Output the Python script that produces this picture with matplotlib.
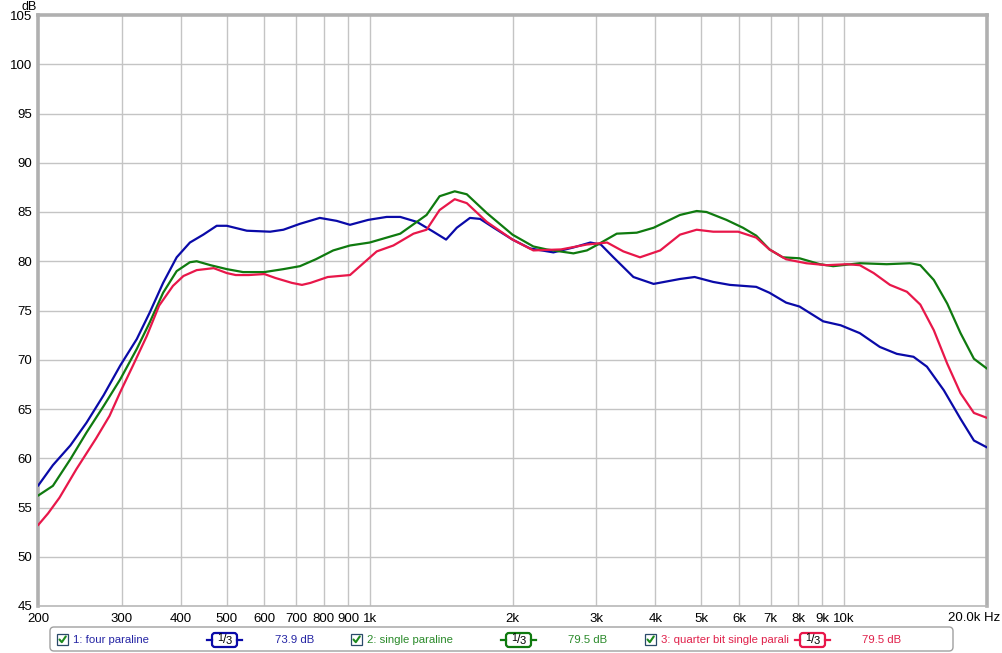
import numpy as np
import matplotlib
matplotlib.use("Agg")
import matplotlib.pyplot as plt
from matplotlib.patches import FancyBboxPatch, Rectangle

plt.rcParams['font.family'] = ['Liberation Sans', 'DejaVu Sans']

# ---------------- data ----------------
blue_f = [200, 215, 234, 253, 275, 298, 323, 344, 367, 392, 418, 446, 476, 500, 551, 617, 658, 713, 785, 852, 909,
          993, 1086, 1160, 1257, 1362, 1449, 1526, 1627, 1709, 1826, 2000, 2178, 2439, 2688, 2918, 3070, 3264, 3596,
          3966, 4508, 4840, 5297, 5744, 6526, 6960, 7545, 8054, 9034, 9832, 10790, 11890, 12910, 14000, 14940,
          16220, 17590, 18770, 20000]
blue_db = [57.2, 59.3, 61.3, 63.6, 66.4, 69.4, 72.1, 74.8, 77.8, 80.4, 81.9, 82.7, 83.6, 83.6, 83.1, 83.0, 83.2, 83.8,
           84.4, 84.1, 83.7, 84.2, 84.5, 84.5, 84.0, 83.0, 82.2, 83.4, 84.4, 84.3, 83.4, 82.2, 81.3, 80.9, 81.4, 81.9,
           81.7, 80.4, 78.4, 77.7, 78.2, 78.4, 77.9, 77.6, 77.4, 76.8, 75.8, 75.4, 73.9, 73.5, 72.7, 71.3, 70.6, 70.3,
           69.3, 66.9, 64.0, 61.8, 61.1]

green_f = [200, 215, 234, 253, 275, 298, 323, 344, 367, 392, 418, 432, 462, 500, 541, 600, 658, 713, 770, 838, 909,
           1000, 1160, 1318, 1404, 1511, 1602, 1765, 2000, 2213, 2361, 2688, 2870, 3000, 3317, 3655, 3966, 4508, 4888,
           5128, 5647, 6120, 6526, 6960, 7423, 8054, 8890, 9480, 10790, 12290, 13780, 14470, 15450, 16490, 17590,
           18770, 20000]
green_db = [56.2, 57.2, 59.9, 62.6, 65.3, 68.0, 71.1, 73.8, 76.8, 79.0, 79.9, 80.0, 79.6, 79.2, 78.9, 78.9, 79.2, 79.5,
            80.2, 81.1, 81.6, 81.9, 82.8, 84.7, 86.6, 87.1, 86.8, 84.9, 82.7, 81.5, 81.2, 80.8, 81.1, 81.6, 82.8, 82.9,
            83.4, 84.7, 85.1, 85.0, 84.2, 83.4, 82.6, 81.2, 80.4, 80.3, 79.7, 79.5, 79.8, 79.7, 79.8, 79.6, 78.1, 75.7,
            72.7, 70.1, 69.1]

red_f = [200, 210, 222, 241, 265, 283, 298, 317, 339, 360, 385, 405, 432, 469, 500, 522, 556, 600, 633, 686, 720, 750,
         816, 909, 1035, 1122, 1237, 1318, 1404, 1511, 1602, 1765, 2000, 2213, 2531, 2870, 3166, 3425, 3713, 4096,
         4508, 4888, 5297, 5980, 6526, 6960, 7545, 8320, 9186, 10140, 10790, 11540, 12490, 13560, 14470, 15450,
         16490, 17590, 18770, 20000]
red_db = [53.2, 54.4, 56.0, 58.9, 62.0, 64.3, 66.7, 69.4, 72.4, 75.5, 77.5, 78.5, 79.1, 79.3, 78.8, 78.6, 78.6, 78.7,
          78.3, 77.8, 77.6, 77.8, 78.4, 78.6, 81.0, 81.6, 82.8, 83.2, 85.2, 86.3, 85.9, 84.0, 82.2, 81.1, 81.2, 81.7,
          81.9, 81.0, 80.4, 81.1, 82.7, 83.2, 83.0, 83.0, 82.4, 81.2, 80.2, 79.8, 79.6, 79.7, 79.6, 78.8, 77.6, 76.9,
          75.6, 73.0, 69.6, 66.6, 64.6, 64.1]

series_names = ["1: four paraline", "2: single paraline", "3: quarter bit single parali"]
series_levels = ["73.9 dB", "79.5 dB", "79.5 dB"]
line_colors = ["#0a0aa8", "#0f7a0f", "#e8174a"]
text_colors = ["#2424a4", "#2a8a2a", "#e0204a"]

x_ticks = [200, 300, 400, 500, 600, 700, 800, 900, 1000, 2000, 3000, 4000, 5000, 6000, 7000, 8000, 9000, 10000, 20000]
x_labels = ["200", "300", "400", "500", "600", "700", "800", "900", "1k", "2k", "3k", "4k", "5k", "6k", "7k", "8k",
            "9k", "10k", "20.0k Hz"]
y_ticks = list(range(45, 106, 5))

# ---------------- figure ----------------
W, H = 1003, 653
fig = plt.figure(figsize=(W / 100, H / 100), dpi=100)
fig.patch.set_facecolor("white")

L, R, T, B = 38, 987, 15, 606
ax = fig.add_axes([L / W, 1 - B / H, (R - L) / W, (B - T) / H])
ax.set_xscale("log")
ax.set_xlim(200, 20000)
ax.set_ylim(45, 105)

grid_c = "#c4c4c4"
for xt in x_ticks[1:-1]:
    ax.axvline(xt, color=grid_c, lw=1.0, zorder=1)
for yt in y_ticks[1:-1]:
    ax.axhline(yt, color=grid_c, lw=1.0, zorder=1)

for f, d, c in zip([blue_f, green_f, red_f], [blue_db, green_db, red_db], line_colors):
    ax.plot(f, d, color=c, lw=1.6, zorder=3, solid_joinstyle="round", solid_capstyle="round")

ax.set_xticks(x_ticks[:-1])
ax.set_xticklabels(x_labels[:-1])
ax.xaxis.set_minor_locator(matplotlib.ticker.NullLocator())
ax.set_yticks(y_ticks)
ax.set_yticklabels([str(v) for v in y_ticks])
ax.tick_params(axis="both", length=0, labelsize=9.5, colors="#000000")
ax.tick_params(axis="x", pad=5)
ax.tick_params(axis="y", pad=4)

for s in ["left", "top", "right"]:
    ax.spines[s].set_color("#b0b0b0")
    ax.spines[s].set_linewidth(2.6)
ax.spines["bottom"].set_color("#b8b8b8")
ax.spines["bottom"].set_linewidth(1.2)

fig.text(1000 / W, 1 - 618 / H, x_labels[-1], ha="right", va="center", fontsize=9.5)
fig.text(29 / W, 1 - 6.5 / H, "dB", ha="center", va="center", fontsize=9)

# ---------------- legend bar ----------------
ov = fig.add_axes([0, 0, 1, 1])
ov.set_xlim(0, W)
ov.set_ylim(H, 0)
ov.axis("off")
ov.patch.set_alpha(0)

ov.add_patch(FancyBboxPatch((50, 627), 903, 24, boxstyle="round,pad=0,rounding_size=4",
                            fc="white", ec="#a0a0a0", lw=1.0))

check_x = [57, 351, 645]
name_x = [73, 367, 661]
frac_x = [207, 501, 795]
level_x = [275, 568, 862]
cy = 640

for i in range(3):
    cx = check_x[i]
    ov.add_patch(Rectangle((cx, cy - 6), 11, 11, fc="white", ec="#2a4a6a", lw=0.9))
    ov.plot([cx + 2.5, cx + 4.8, cx + 8.8], [cy - 0.5, cy + 2.2, cy - 3.6], color="#1e8a1e", lw=1.5,
            solid_capstyle="round")
    ov.text(name_x[i], cy, series_names[i], color=text_colors[i], fontsize=8.2, va="center", ha="left")
    fx = frac_x[i]
    c = line_colors[i]
    ov.plot([fx, fx + 5], [cy, cy], color=c, lw=1.6)
    ov.plot([fx + 30, fx + 35], [cy, cy], color=c, lw=1.6)
    ov.add_patch(FancyBboxPatch((fx + 5, cy - 7), 25, 14, boxstyle="round,pad=0,rounding_size=3",
                                fc="white", ec=c, lw=1.6))
    ov.text(fx + 13, cy - 2, "1", color="black", fontsize=7.5, ha="center", va="center")
    ov.text(fx + 17.5, cy, "/", color="black", fontsize=9, ha="center", va="center")
    ov.text(fx + 22, cy + 1.5, "3", color="black", fontsize=8, ha="center", va="center")
    ov.text(level_x[i], cy, series_levels[i], color=text_colors[i], fontsize=8.2, va="center", ha="left")

fig.savefig("out.png", dpi=100, facecolor="white")
